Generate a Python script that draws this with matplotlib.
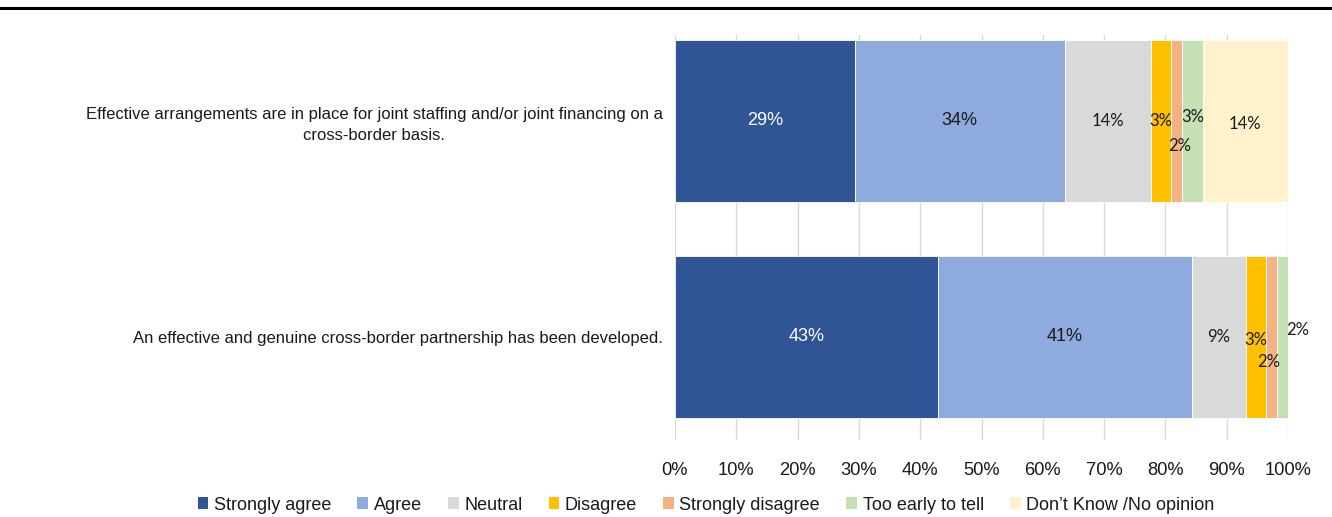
import matplotlib
matplotlib.use("Agg")
import matplotlib.pyplot as plt
from matplotlib.lines import Line2D
from matplotlib.patches import Patch

statements = [
    "An effective and genuine cross-border partnership has been developed.",
    "Effective arrangements are in place for joint staffing and/or joint financing on a\ncross-border basis.",
]
responses = ["Strongly agree", "Agree", "Neutral", "Disagree",
             "Strongly disagree", "Too early to tell", "Don\u2019t Know /No opinion"]
strongly_agree = [42.9, 29.3]
agree = [41.4, 34.3]
neutral = [8.8, 14.0]
disagree = [3.3, 3.3]
strongly_disagree = [1.8, 1.8]
too_early = [1.8, 3.4]
dont_know = [0.0, 13.9]
x_ticks = [0, 10, 20, 30, 40, 50, 60, 70, 80, 90, 100]

series = [strongly_agree, agree, neutral, disagree, strongly_disagree, too_early, dont_know]
colors = ["#2F5597", "#8FAADC", "#D9D9D9", "#FFC000", "#F4B183", "#C5E0B4", "#FFF2CC"]
label_colors = ["white", "#1a1a1a", "#1a1a1a", "#1a1a1a", "#1a1a1a", "#1a1a1a", "#1a1a1a"]
label_fonts = ["Liberation Sans", "Liberation Sans", "Lato", "Lato", "Lato", "Lato", "Lato"]
# per (row, series) label nudges in points
nudges = {
    (1, 3): (0, 0), (1, 4): (2, -18), (1, 5): (0, 3), (1, 6): (0, -2),
    (0, 3): (0, -2), (0, 4): (-2, -18), (0, 5): (11, 5),
}

W, H = 13.32, 5.17
fig = plt.figure(figsize=(W, H), dpi=100)
left, right, top, bottom = 675, 1288, 35, 440
ax = fig.add_axes([left / 1332, 1 - bottom / 517, (right - left) / 1332, (bottom - top) / 517])

ypos = [0, 1]
bar_h = 0.75
lefts = [0.0, 0.0]
for si, vals in enumerate(series):
    ax.barh(ypos, vals, left=lefts, height=bar_h, color=colors[si],
            edgecolor="white", linewidth=0.6, zorder=2)
    for r in range(2):
        v = vals[r]
        if v > 0:
            dx, dy = nudges.get((r, si), (0, 0))
            ax.annotate(f"{v:.0f}%", (lefts[r] + v / 2, ypos[r]), xytext=(dx, dy),
                        textcoords="offset points", ha="center", va="center",
                        fontsize=13 if si < 2 else 12, color=label_colors[si],
                        family=label_fonts[si], zorder=4)
    lefts = [lefts[i] + vals[i] for i in range(2)]

ax.set_xlim(0, 100)
ax.set_ylim(-0.477, 1.398)
ax.set_xticks(x_ticks)
ax.set_xticklabels([f"{t}%" for t in x_ticks], family="Liberation Sans", fontsize=13.2, color="#1a1a1a")
ax.tick_params(axis="x", length=0, pad=16)
ax.set_yticks(ypos)
ax.set_yticklabels(statements, family="Liberation Sans", fontsize=11.95, color="#1a1a1a",
                   ha="right", linespacing=1.42, multialignment="center")
ax.tick_params(axis="y", length=0, pad=9)
ax.grid(axis="x", color="#D9D9D9", linewidth=1, zorder=0)
ax.set_axisbelow(True)
for s in ax.spines.values():
    s.set_visible(False)

handles = [Patch(facecolor=c, edgecolor="none") for c in colors]
fig.legend(handles, responses, loc="center", bbox_to_anchor=(706 / 1332, 1 - 505 / 517),
           ncol=7, frameon=False, prop={"family": "Liberation Sans", "size": 13},
           handlelength=0.6, handleheight=0.6, handletextpad=0.3, columnspacing=1.45,
           labelcolor="#1a1a1a")

fig.add_artist(Line2D([0, 1], [1 - 8 / 517, 1 - 8 / 517], color="black", linewidth=2.2,
                      transform=fig.transFigure))

fig.savefig("out.png", dpi=100)
